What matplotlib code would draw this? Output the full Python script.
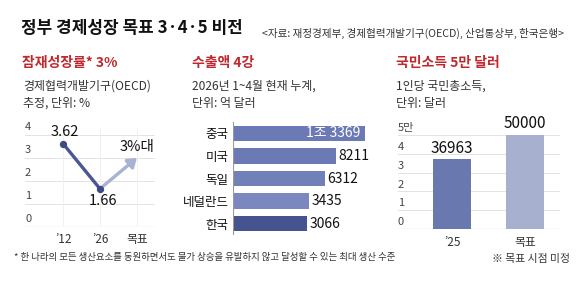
import matplotlib
matplotlib.use('Agg')
import matplotlib.pyplot as plt

plt.rcParams['font.family'] = ['Noto Sans CJK KR', 'DejaVu Sans']

# data
growth_years = ['’12', '’26', '목표']
growth_vals = [3.62, 1.66]
growth_target = 3.0

export_countries = ['중국', '미국', '독일', '네덜란드', '한국']
export_vals = [13369, 8211, 6312, 3435, 3066]
export_labels = ['1조 3369', '8211', '6312', '3435', '3066']

gni_years = ['’25', '목표']
gni_vals = [36963, 50000]

W, H = 580, 282
RED = '#c0282d'
NAVY = '#4a5793'
LIGHT = '#a8b2d4'
GRID = '#dedede'
TXT = '#333333'

fig = plt.figure(figsize=(W / 100, H / 100), dpi=100)


def box(x0, y0, x1, y1):
    return [x0 / W, 1 - y1 / H, (x1 - x0) / W, (y1 - y0) / H]


def ftext(x, y, s, **kw):
    fig.text(x / W, 1 - y / H, s, **kw)


# header
ftext(21, 28, '정부 경제성장 목표 3·4·5 비전', fontsize=12.2, fontweight='bold', va='center', color='#111111')
ftext(564, 33, '<자료: 재정경제부, 경제협력개발기구(OECD), 산업통상부, 한국은행>',
      fontsize=7.6, ha='right', va='center', color=TXT)

# panel headings
ftext(22, 63, '잠재성장률* 3%', fontsize=10, fontweight='bold', color=RED, va='center')
ftext(23, 86, '경제협력개발기구(OECD)', fontsize=8.6, color=TXT, va='center')
ftext(23, 103, '추정, 단위: %', fontsize=8.6, color=TXT, va='center')

ftext(192, 63, '수출액 4강', fontsize=10, fontweight='bold', color=RED, va='center')
ftext(192, 86, '2026년 1~4월 현재 누계,', fontsize=8.6, color=TXT, va='center')
ftext(192, 103, '단위: 억 달러', fontsize=8.6, color=TXT, va='center')

ftext(396, 63, '국민소득 5만 달러', fontsize=10, fontweight='bold', color=RED, va='center')
ftext(396, 86, '1인당 국민총소득,', fontsize=8.6, color=TXT, va='center')
ftext(396, 103, '단위: 달러', fontsize=8.6, color=TXT, va='center')

# footer
ftext(14, 257, '* 한 나라의 모든 생산요소를 동원하면서도 물가 상승을 유발하지 않고 달성할 수 있는 최대 생산 수준',
      fontsize=6.8, color=TXT, va='center')
ftext(570, 259, '※ 목표 시점 미정', fontsize=7.8, color=TXT, va='center', ha='right')


def clean(ax):
    for s in ax.spines.values():
        s.set_visible(False)
    ax.tick_params(length=0)


# panel 1: potential growth
ax1 = fig.add_axes(box(25, 128, 155, 227))
clean(ax1)
ax1.set_xlim(-1.03, 2.49)
ax1.set_ylim(0, 4.3)
ax1.set_yticks([])
ax1.set_xticks(range(3))
ax1.set_xticklabels(growth_years, fontsize=8.5, color=TXT)
ax1.tick_params(axis='x', pad=4)
for t in range(0, 5):
    ax1.axhline(t, color='#999999' if t == 0 else GRID, lw=0.8 if t == 0 else 0.6, zorder=0)
    ax1.text(0.0, t + 0.12, str(t), transform=ax1.get_yaxis_transform(),
             fontsize=8, color='#444444', va='bottom', ha='left')
for x in range(3):
    ax1.axvline(x, color='#efefef', lw=0.6, zorder=0)
ax1.plot([0, 1], growth_vals, color=NAVY, lw=2.4, zorder=3)
ax1.annotate('', xy=(2, growth_target), xytext=(1, growth_vals[1]),
             arrowprops=dict(arrowstyle='-|>,head_length=0.5,head_width=0.35', color=LIGHT, lw=2.4,
                             shrinkA=0, shrinkB=0), zorder=2)
ax1.scatter([0, 1], growth_vals, s=18, color='#3d4a85', zorder=4)
ax1.annotate(f'{growth_vals[0]:.2f}', (0, growth_vals[0]), xytext=(1, 3), textcoords='offset points',
             ha='center', va='bottom', fontsize=10.5, color='#111111')
ax1.annotate(f'{growth_vals[1]:.2f}', (1, growth_vals[1]), xytext=(2, -4), textcoords='offset points',
             ha='center', va='top', fontsize=10.5, color='#111111')
ax1.annotate('3%대', (2, growth_target), xytext=(0, 3), textcoords='offset points',
             ha='center', va='bottom', fontsize=10.5, color='#111111')

# panel 2: exports
ax2 = fig.add_axes(box(233, 122, 380, 235))
clean(ax2)
base = -10000
ax2.set_xlim(base, 16100)
ax2.set_ylim(4.5, -0.5)
ax2.set_xticks([])
bar_cols = ['#6b79b5', '#6b79b5', '#7280ba', '#7a88bf', '#45538f']
ys = range(len(export_countries))
ax2.barh(ys, [v - base for v in export_vals], left=base, height=0.68, color=bar_cols)
ax2.set_yticks(list(ys))
ax2.set_yticklabels(export_countries, fontsize=9, color='#111111')
ax2.tick_params(axis='y', pad=3)
ax2.axvline(base, color='#999999', lw=0.8)
for i, (v, lab) in enumerate(zip(export_vals, export_labels)):
    if i == 0:
        ax2.annotate(lab, (v, i), xytext=(-3, 0), textcoords='offset points',
                     ha='right', va='center', fontsize=10, color='white')
    else:
        ax2.annotate(lab, (v, i), xytext=(2, 0), textcoords='offset points',
                     ha='left', va='center', fontsize=10, color='#111111')

# panel 3: GNI
ax3 = fig.add_axes(box(398, 128, 560, 229))
clean(ax3)
ax3.set_xlim(-0.74, 1.48)
ax3.set_ylim(0, 53700)
ax3.set_yticks([])
for t in range(0, 6):
    ax3.axhline(t * 10000, color='#999999' if t == 0 else GRID, lw=0.8 if t == 0 else 0.6, zorder=0)
    ax3.text(0.0, t * 10000 + 1000, '5만' if t == 5 else str(t), transform=ax3.get_yaxis_transform(),
             fontsize=8, color='#444444', va='bottom', ha='left')
ax3.bar(range(2), gni_vals, width=0.52, color=['#6a78b0', '#a7b1cf'], zorder=2)
ax3.set_xticks(range(2))
ax3.set_xticklabels(gni_years, fontsize=8.5, color=TXT)
ax3.tick_params(axis='x', pad=5)
for i, v in enumerate(gni_vals):
    ax3.annotate(f'{v}', (i, v), xytext=(0, 2), textcoords='offset points',
                 ha='center', va='bottom', fontsize=11, color='#111111')

fig.savefig('out.png', dpi=100)
